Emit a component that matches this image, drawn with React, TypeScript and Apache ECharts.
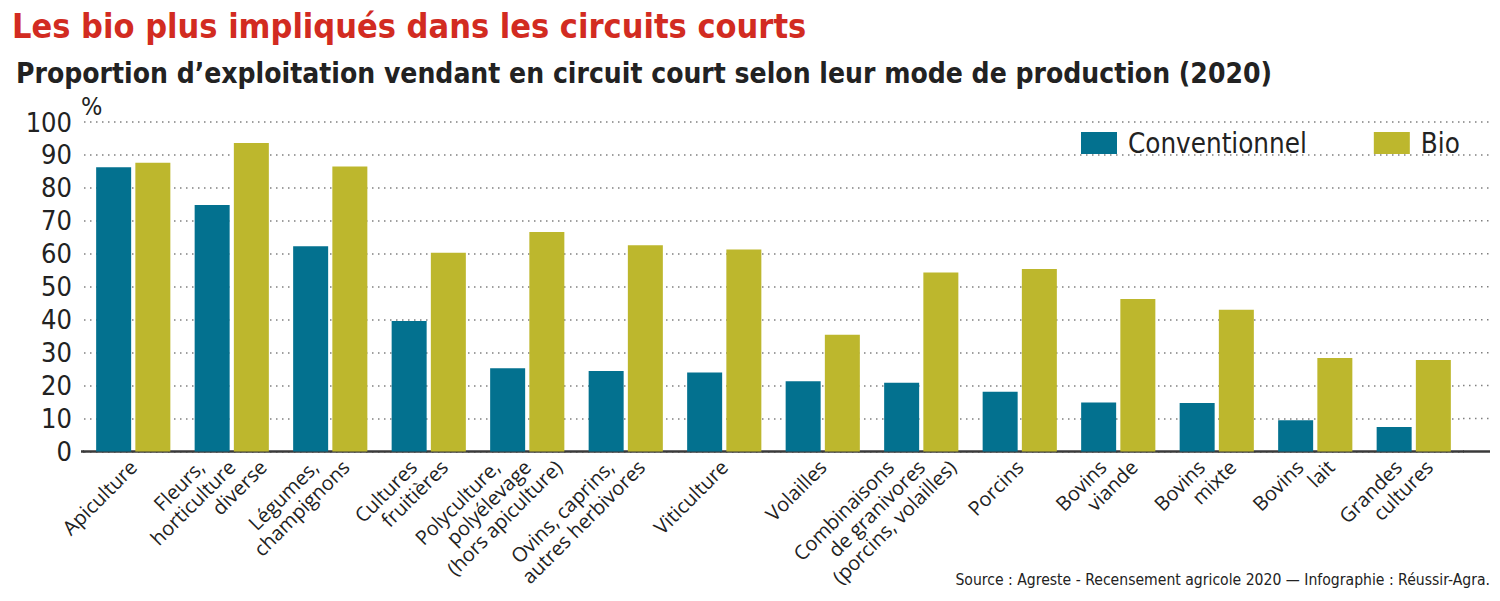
import React, { useEffect, useRef } from "react";
import * as echarts from "echarts";

const categories = [
  "Apiculture",
  "Fleurs,\nhorticulture\ndiverse",
  "Légumes,\nchampignons",
  "Cultures\nfruitières",
  "Polyculture,\npolyélevage\n(hors apiculture)",
  "Ovins, caprins,\nautres herbivores",
  "Viticulture",
  "Volailles",
  "Combinaisons\nde granivores\n(porcins, volailles)",
  "Porcins",
  "Bovins\nviande",
  "Bovins\nmixte",
  "Bovins\nlait",
  "Grandes\ncultures",
];

const conventionnel = [86.3, 74.8, 62.3, 39.6, 25.3, 24.4, 24.0, 21.3, 20.9, 18.1, 14.9, 14.7, 9.5, 7.4];
const bio = [87.6, 93.6, 86.5, 60.3, 66.6, 62.6, 61.3, 35.4, 54.3, 55.4, 46.3, 43.0, 28.4, 27.8];

const yTicks = [0, 10, 20, 30, 40, 50, 60, 70, 80, 90, 100];

const TITLE = "Les bio plus impliqués dans les circuits courts";
const SUBTITLE = "Proportion d’exploitation vendant en circuit court selon leur mode de production (2020)";
const SOURCE = "Source : Agreste - Recensement agricole 2020 — Infographie : Réussir-Agra.";

const NARROW = "'DejaVu Sans Condensed', 'DejaVu Sans', sans-serif";
const LABEL_FONT = "'Open Sans', sans-serif";
const C_CONV = "#03718f";
const C_BIO = "#bdb72d";
const LH = 22;

function makeRich() {
  const rich: any = {};
  for (let n = 1; n <= 3; n++) {
    for (let i = 0; i < n; i++) {
      const pad = ((n - 1) / 2 - i) * LH;
      rich[`l${n}_${i}`] = {
        fontFamily: LABEL_FONT,
        fontSize: 20,
        lineHeight: LH,
        color: "#222",
        padding: [0, pad, 0, 0],
      };
    }
  }
  return rich;
}

export default function App() {
  const ref = useRef<HTMLDivElement>(null);

  useEffect(() => {
    if (!ref.current) return;
    const chart = echarts.init(ref.current, null, { renderer: "svg" });
    const option: any = {
      animation: false,
      backgroundColor: "#ffffff",
      textStyle: { fontFamily: NARROW },
      grid: { left: 84, right: 37, top: 122, bottom: 149.5, containLabel: false },
      legend: {
        left: 1081,
        top: 129,
        padding: 0,
        itemWidth: 36,
        itemHeight: 22,
        itemGap: 67,
        icon: "rect",
        data: ["Conventionnel", "Bio"],
        textStyle: { fontFamily: NARROW, fontSize: 27.5, color: "#222", padding: [0, 0, 0, 6] },
      },
      xAxis: {
        type: "category",
        data: categories,
        axisLine: { show: true, lineStyle: { color: "#3a3a3a", width: 2.5 } },
        axisTick: { show: false },
        axisLabel: {
          interval: 0,
          rotate: 45,
          margin: 12,
          fontFamily: LABEL_FONT,
          fontSize: 20,
          lineHeight: LH,
          color: "#222",
          formatter: (value: string) => {
            const lines = value.split("\n");
            const n = lines.length;
            return lines.map((l, i) => `{l${n}_${i}|${l}}`).join("\n");
          },
          rich: makeRich(),
        },
      },
      yAxis: {
        type: "value",
        min: 0,
        max: 100,
        interval: 10,
        axisLine: { show: false },
        axisTick: { show: false },
        axisLabel: {
          margin: 12,
          fontFamily: NARROW,
          fontSize: 27,
          color: "#222",
          formatter: (v: number) => (yTicks.includes(v) ? String(v) : ""),
        },
        splitLine: {
          show: true,
          lineStyle: { color: "#808080", width: 1.5, type: [1.5, 4.5] },
        },
      },
      series: [
        {
          name: "Conventionnel",
          type: "bar",
          data: conventionnel,
          barWidth: 35,
          barGap: "12%",
          itemStyle: { color: C_CONV },
        },
        {
          name: "Bio",
          type: "bar",
          data: bio,
          barWidth: 35,
          barGap: "12%",
          itemStyle: { color: C_BIO },
        },
      ],
      graphic: [],
    };
    chart.setOption(option);

    // extend gridlines and axis line slightly beyond the category band
    const extra: any[] = [];
    const xLeft = 84;
    const xRight = 1500 - 37;
    yTicks.forEach((t) => {
      const y = chart.convertToPixel({ yAxisIndex: 0 }, t) as number;
      if (t === 0) {
        extra.push({
          type: "line",
          shape: { x1: 81, y1: y, x2: xLeft, y2: y },
          style: { stroke: "#3a3a3a", lineWidth: 2.5 },
        });
        extra.push({
          type: "line",
          shape: { x1: xRight, y1: y, x2: 1490, y2: y },
          style: { stroke: "#3a3a3a", lineWidth: 2.5 },
        });
      } else {
        extra.push({
          type: "line",
          shape: { x1: xRight, y1: y, x2: 1490, y2: y },
          style: { stroke: "#808080", lineWidth: 1.5, lineDash: [1.5, 4.5] },
        });
      }
    });

    chart.setOption({
      graphic: [
        {
          type: "text",
          left: 12,
          top: 9,
          style: { text: TITLE, fontFamily: NARROW, fontWeight: "bold", fontSize: 34, fill: "#d22b21" },
        },
        {
          type: "text",
          left: 16,
          top: 59,
          style: { text: SUBTITLE, fontFamily: NARROW, fontWeight: "bold", fontSize: 28, fill: "#222" },
        },
        {
          type: "text",
          left: 81,
          top: 94,
          style: { text: "%", fontFamily: NARROW, fontSize: 25, fill: "#222" },
        },
        {
          type: "text",
          right: 10,
          top: 572,
          style: { text: SOURCE, fontFamily: NARROW, fontSize: 15.6, fill: "#222" },
        },
        ...extra,
      ],
    });

    return () => chart.dispose();
  }, []);

  return <div ref={ref} style={{ width: 1500, height: 601, margin: -8 }} />;
}
